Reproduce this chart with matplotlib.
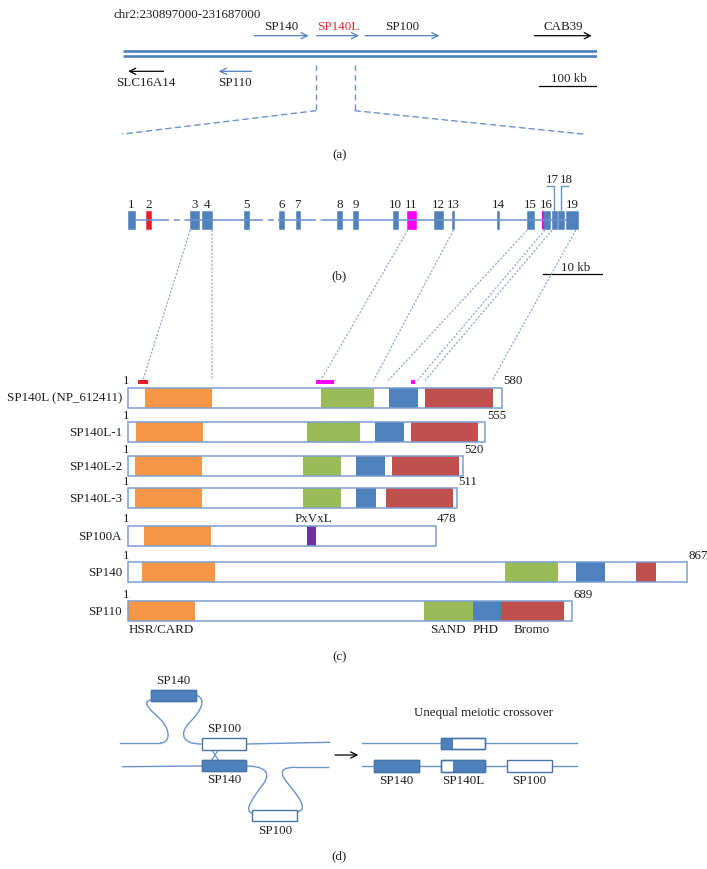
import matplotlib
matplotlib.use('Agg')
import matplotlib.pyplot as plt
from matplotlib.patches import Rectangle, ConnectionPatch, PathPatch
from matplotlib.path import Path

plt.rcParams['font.family'] = ['Liberation Serif', 'DejaVu Serif']

W, H = 707, 870
BLUE = '#4f81bd'
LINE = '#6a93cc'
TXT = '#231f20'
FS = 9.4

# ---------------- data: (a) chr2 region, kb from 230897000
region_label = 'chr2:230897000-231687000'
region_kb = 790
top_genes = ['SP140', 'SP140L', 'SP100', 'CAB39']
top_tail_kb = [219, 323, 404, 686]
top_head_kb = [310, 394, 528, 782]
top_arrow_col = [BLUE, BLUE, BLUE, 'black']
top_label_col = [TXT, '#e0282e', TXT, TXT]
bottom_genes = ['SLC16A14', 'SP110']
bottom_tail_kb = [68, 215]
bottom_head_kb = [9, 160]
bottom_arrow_col = ['black', BLUE]
zoom_kb = [322, 387]
scale_a_kb = 100

# ---------------- data: (b) SP140L exons, kb from exon 1
exon_start = [0, 3.03, 10.51, 12.57, 19.63, 25.52, 28.28, 35.29, 37.98, 44.61,
              47.07, 51.52, 54.59, 62.22, 67.17, 69.80, 71.38, 72.44, 73.79]
exon_end = [1.23, 3.87, 12.07, 14.24, 20.42, 26.31, 29.00, 36.03, 38.77, 45.45,
            48.48, 53.13, 54.98, 62.51, 68.40, 71.09, 72.22, 73.50, 75.76]
exon_color = [BLUE, '#ed1c24'] + [BLUE] * 8 + ['#ff00ff'] + [BLUE] * 8
exon16_magenta = (69.80, 70.13)
intron_gap_kb = [(6.0, 10.51), (21.7, 25.52), (30.7, 33.6)]
scale_b_kb = 10

# ---------------- data: (c) proteins, amino acids
proteins = ['SP140L (NP_612411)', 'SP140L-1', 'SP140L-2', 'SP140L-3', 'SP100A', 'SP140', 'SP110']
lengths = [580, 555, 520, 511, 478, 867, 689]
card = [(27, 131), (13, 117), (11, 115), (11, 115), (26, 129), (23, 136), (1, 104)]
sand = [(300, 382), (278, 360), (272, 331), (272, 331), None, (586, 667), (460, 536)]
phd = [(405, 450), (384, 429), (354, 399), (354, 386), None, (695, 740), (536, 579)]
bromo = [(462, 566), (440, 543), (410, 514), (400, 504), None, (789, 819), (579, 677)]
pxvxl = (278, 292)
exon_marks = [((16, 32), '#ed1c24'), ((292, 320), '#ff00ff'), ((439, 446), '#ff00ff')]
# exon (kb) -> residue (aa) links
links_kb = [10.5, 14.2, 47.1, 54.8, 67.2, 70.2, 71.4, 75.4]
links_aa = [24, 131, 300, 382, 405, 450, 462, 566]

fig = plt.figure(figsize=(W / 100, H / 100), dpi=100)


def strip_axes(px_zero, px_per_unit, xmin, xmax):
    left = px_zero + xmin * px_per_unit
    a = fig.add_axes([left / W, 0, (xmax - xmin) * px_per_unit / W, 1])
    a.set_xlim(xmin, xmax)
    a.set_ylim(H, 0)
    a.axis('off')
    return a


ax = strip_axes(0, 1, 0, W)
ax_a = strip_axes(122.7, 474 / region_kb, 0, region_kb)
ax_b = strip_axes(127.7, 5.94, -3, 80)
ax_c = strip_axes(127.5, 0.645, -5, 900)

arrow_style = '->,head_length=0.45,head_width=0.22'

# ================= (a)
ax.text(113, 15, region_label, fontsize=FS, color=TXT, va='center', ha='left')
for y in (52.3, 57.3):
    ax_a.plot([0, region_kb], [y, y], color=BLUE, lw=1.9, solid_capstyle='butt')
for g, t, h, ac, lc in zip(top_genes, top_tail_kb, top_head_kb, top_arrow_col, top_label_col):
    ax_a.annotate('', xy=(h, 36.7), xytext=(t, 36.7),
                  arrowprops=dict(arrowstyle=arrow_style, color=ac, lw=0.9,
                                  shrinkA=0, shrinkB=0, mutation_scale=10))
    ax_a.text((t + h) / 2, 27.5, g, fontsize=FS, color=lc, ha='center', va='center')
for g, t, h, ac in zip(bottom_genes, bottom_tail_kb, bottom_head_kb, bottom_arrow_col):
    ax_a.annotate('', xy=(h, 72.3), xytext=(t, 72.3),
                  arrowprops=dict(arrowstyle=arrow_style, color=ac, lw=0.9,
                                  shrinkA=0, shrinkB=0, mutation_scale=10))
    ax_a.text((t + h) / 2, 83.5, g, fontsize=FS, color=TXT, ha='center', va='center')
ax_a.plot([693, 693 + scale_a_kb], [87.3, 87.3], color='black', lw=0.9)
ax_a.text(693 + scale_a_kb / 2, 79.5, '%d kb' % scale_a_kb, fontsize=FS, color=TXT,
          ha='center', va='center')
dash = dict(color=LINE, lw=1.0, linestyle=(0, (4, 3)))
for k in zoom_kb:
    ax_a.plot([k, k], [65.7, 111.7], **dash)
for k, kb_end in zip(zoom_kb, [-0.85, 76.6]):
    con = ConnectionPatch(xyA=(k, 111.7), xyB=(kb_end, 135), coordsA='data', coordsB='data',
                          axesA=ax_a, axesB=ax_b, annotation_clip=False, **dash)
    fig.add_artist(con)
ax.text(340, 155, '(a)', fontsize=FS, color=TXT, ha='center', va='center')

# ================= (b)
y_mid, ex_top, ex_h = 220.7, 211.7, 18.3
# intron line: solid parts and dashed gaps
prev = exon_end[0]
for g0, g1 in sorted(intron_gap_kb):
    ax_b.plot([prev, g0], [y_mid, y_mid], color=LINE, lw=1.1)
    ax_b.plot([g0, g1], [y_mid, y_mid], color=LINE, lw=1.1, linestyle=(0, (4, 3)))
    prev = g1
ax_b.plot([prev, exon_start[-1]], [y_mid, y_mid], color=LINE, lw=1.1)
for i, (s, e, c) in enumerate(zip(exon_start, exon_end, exon_color)):
    ax_b.add_patch(Rectangle((s, ex_top), e - s, ex_h, facecolor=c, edgecolor=c,
                             lw=0.4, clip_on=False))
    n = i + 1
    cx = (s + e) / 2
    if n == 17:
        ax_b.plot([cx, cx, cx - 1.2], [ex_top, 187.3, 187.3], color=LINE, lw=1.0)
        ax_b.text(cx - 0.3, 186, str(n), fontsize=FS, color=TXT, ha='center', va='bottom')
    elif n == 18:
        ax_b.plot([cx, cx, cx + 1.2], [ex_top, 187.3, 187.3], color=LINE, lw=1.0)
        ax_b.text(cx + 0.8, 186, str(n), fontsize=FS, color=TXT, ha='center', va='bottom')
    else:
        ax_b.text(cx, 210.5, str(n), fontsize=FS, color=TXT, ha='center', va='bottom')
m0, m1 = exon16_magenta
ax_b.add_patch(Rectangle((m0, ex_top), m1 - m0, ex_h, facecolor='#ff00ff',
                         edgecolor='none', clip_on=False))
ax_b.plot([69.9, 69.9 + scale_b_kb], [275.3, 275.3], color='black', lw=0.9)
ax_b.text(69.9 + scale_b_kb / 2 + 0.5, 268, '%d kb' % scale_b_kb, fontsize=FS, color=TXT,
          ha='center', va='center')
ax.text(339, 276, '(b)', fontsize=FS, color=TXT, ha='center', va='center')

for kb, aa in zip(links_kb, links_aa):
    con = ConnectionPatch(xyA=(kb, 231.5), xyB=(aa, 381), coordsA='data', coordsB='data',
                          axesA=ax_b, axesB=ax_c, color='#8fa6c4', lw=0.9,
                          linestyle=(0, (1, 2)), annotation_clip=False)
    fig.add_artist(con)

# ================= (c)
row_top = [388.5, 423.3, 457.3, 489.3, 526.7, 563.3, 602.3]
bar_h = 20
dom_colors = ['#f79646', '#9bbb59', BLUE, '#c0504d']
for name, L, top, doms in zip(proteins, lengths, row_top, zip(card, sand, phd, bromo)):
    for d, c in zip(doms, dom_colors):
        if d is None:
            continue
        ax_c.add_patch(Rectangle((d[0], top), d[1] - d[0], bar_h, facecolor=c,
                                 edgecolor='none', clip_on=False))
    ax_c.add_patch(Rectangle((0, top), L, bar_h, facecolor='none', edgecolor='#7d9fd0',
                             lw=1.1, clip_on=False, zorder=3))
    ax_c.text(-8.5, top + bar_h / 2, name, fontsize=FS, color=TXT, ha='right', va='center')
    ax_c.text(-2, top - 1.5, '1', fontsize=FS, color=TXT, ha='center', va='bottom')
    ax_c.text(L + 2, top - 1.5, str(L), fontsize=FS, color=TXT, ha='left', va='bottom')

top_100a = row_top[proteins.index('SP100A')]
ax_c.add_patch(Rectangle((pxvxl[0], top_100a), pxvxl[1] - pxvxl[0], bar_h,
                         facecolor='#7030a0', edgecolor='none', clip_on=False))
ax_c.text(sum(pxvxl) / 2 + 4, top_100a - 1.5, 'PxVxL', fontsize=FS, color=TXT,
          ha='center', va='bottom')
for (a0, a1), c in exon_marks:
    ax_c.add_patch(Rectangle((a0, 380.7), a1 - a0, 4.5, facecolor=c, edgecolor='none',
                             clip_on=False))

top_110 = row_top[-1]
ax_c.text(1, top_110 + bar_h + 8, 'HSR/CARD', fontsize=FS, color=TXT, ha='left', va='center')
for lab, d in zip(['SAND', 'PHD', 'Bromo'], [sand[-1], phd[-1], bromo[-1]]):
    ax_c.text(sum(d) / 2 - 2, top_110 + bar_h + 8, lab, fontsize=FS, color=TXT,
              ha='center', va='center')
ax.text(340, 657, '(c)', fontsize=FS, color=TXT, ha='center', va='center')


# ================= (d)
def box(x0, x1, y0, y1, fill, split=None):
    ax.add_patch(Rectangle((x0, y0), x1 - x0, y1 - y0, facecolor='white',
                           edgecolor='#4a74a8', lw=1.0, zorder=3))
    if fill == 'full':
        ax.add_patch(Rectangle((x0, y0), x1 - x0, y1 - y0, facecolor=BLUE,
                               edgecolor='#4a74a8', lw=1.0, zorder=4))
    elif fill == 'left':
        ax.add_patch(Rectangle((x0, y0), split - x0, y1 - y0, facecolor=BLUE,
                               edgecolor='none', zorder=4))
        ax.add_patch(Rectangle((x0, y0), x1 - x0, y1 - y0, facecolor='none',
                               edgecolor='#4a74a8', lw=1.0, zorder=5))
    elif fill == 'right':
        ax.add_patch(Rectangle((split, y0), x1 - split, y1 - y0, facecolor=BLUE,
                               edgecolor='none', zorder=4))
        ax.add_patch(Rectangle((x0, y0), x1 - x0, y1 - y0, facecolor='none',
                               edgecolor='#4a74a8', lw=1.0, zorder=5))


def curve(verts):
    codes = [Path.MOVETO] + [Path.CURVE4] * (len(verts) - 1)
    ax.add_patch(PathPatch(Path(verts, codes), facecolor='none', edgecolor=LINE, lw=1.0))


# left: upper strand with SP140 loop
ax.plot([120, 160], [744, 744], color=LINE, lw=1.0)
curve([(160, 744), (171, 744), (170, 731), (162, 722),
       (152, 712), (140, 703), (151, 701)])
curve([(195.7, 696), (208, 700), (200, 713), (190, 723),
       (180, 733), (180, 745), (201.7, 745)])
box(151, 195.7, 690.7, 701.7, 'full')
ax.text(173, 681, 'SP140', fontsize=FS, color=TXT, ha='center', va='center')
box(201.7, 245.7, 739.3, 750.7, 'none')
ax.plot([245.7, 329.3], [745, 743.3], color=LINE, lw=1.0)
ax.text(224, 729, 'SP100', fontsize=FS, color=TXT, ha='center', va='center')
# lower strand with SP100 loop
ax.plot([122.7, 201.7], [767.7, 767], color=LINE, lw=1.0)
box(201.7, 245.7, 761, 772.3, 'full')
curve([(245.7, 767), (262, 767), (272, 772), (264, 784),
       (256, 795), (242, 812), (252.3, 814)])
curve([(297.3, 813), (310, 810), (296, 795), (286, 782),
       (278, 771), (284, 768.3), (296, 768.3)])
ax.plot([296, 327.7], [768.3, 768.3], color=LINE, lw=1.0)
box(252.3, 297.3, 810.7, 821.7, 'none')
ax.text(224, 780, 'SP140', fontsize=FS, color=TXT, ha='center', va='center')
ax.text(275, 831, 'SP100', fontsize=FS, color=TXT, ha='center', va='center')
ax.plot([211.7, 218.3], [751, 761], color=LINE, lw=0.9)
ax.plot([218.3, 211.7], [751, 761], color=LINE, lw=0.9)
ax.annotate('', xy=(358.3, 756), xytext=(335, 756),
            arrowprops=dict(arrowstyle=arrow_style, color='black', lw=0.9,
                            shrinkA=0, shrinkB=0, mutation_scale=10))
# right: products
ax.text(484, 713.3, 'Unequal meiotic crossover', fontsize=FS, color=TXT,
        ha='center', va='center')
ax.plot([361.7, 576.7], [744.3, 744.3], color=LINE, lw=1.0)
ax.plot([361.7, 576.7], [767.3, 767.3], color=LINE, lw=1.0)
box(440.7, 485, 739.3, 750.3, 'left', split=453.3)
box(374, 419, 761, 772.7, 'full')
box(440.7, 485, 761, 772.7, 'right', split=453.3)
box(507.3, 551.7, 761, 772.7, 'none')
for lab, x in zip(['SP140', 'SP140L', 'SP100'], [396.7, 463.3, 529.3]):
    ax.text(x, 780.7, lab, fontsize=FS, color=TXT, ha='center', va='center')
ax.text(339, 856, '(d)', fontsize=FS, color=TXT, ha='center', va='center')

fig.savefig('out.png', dpi=100)
